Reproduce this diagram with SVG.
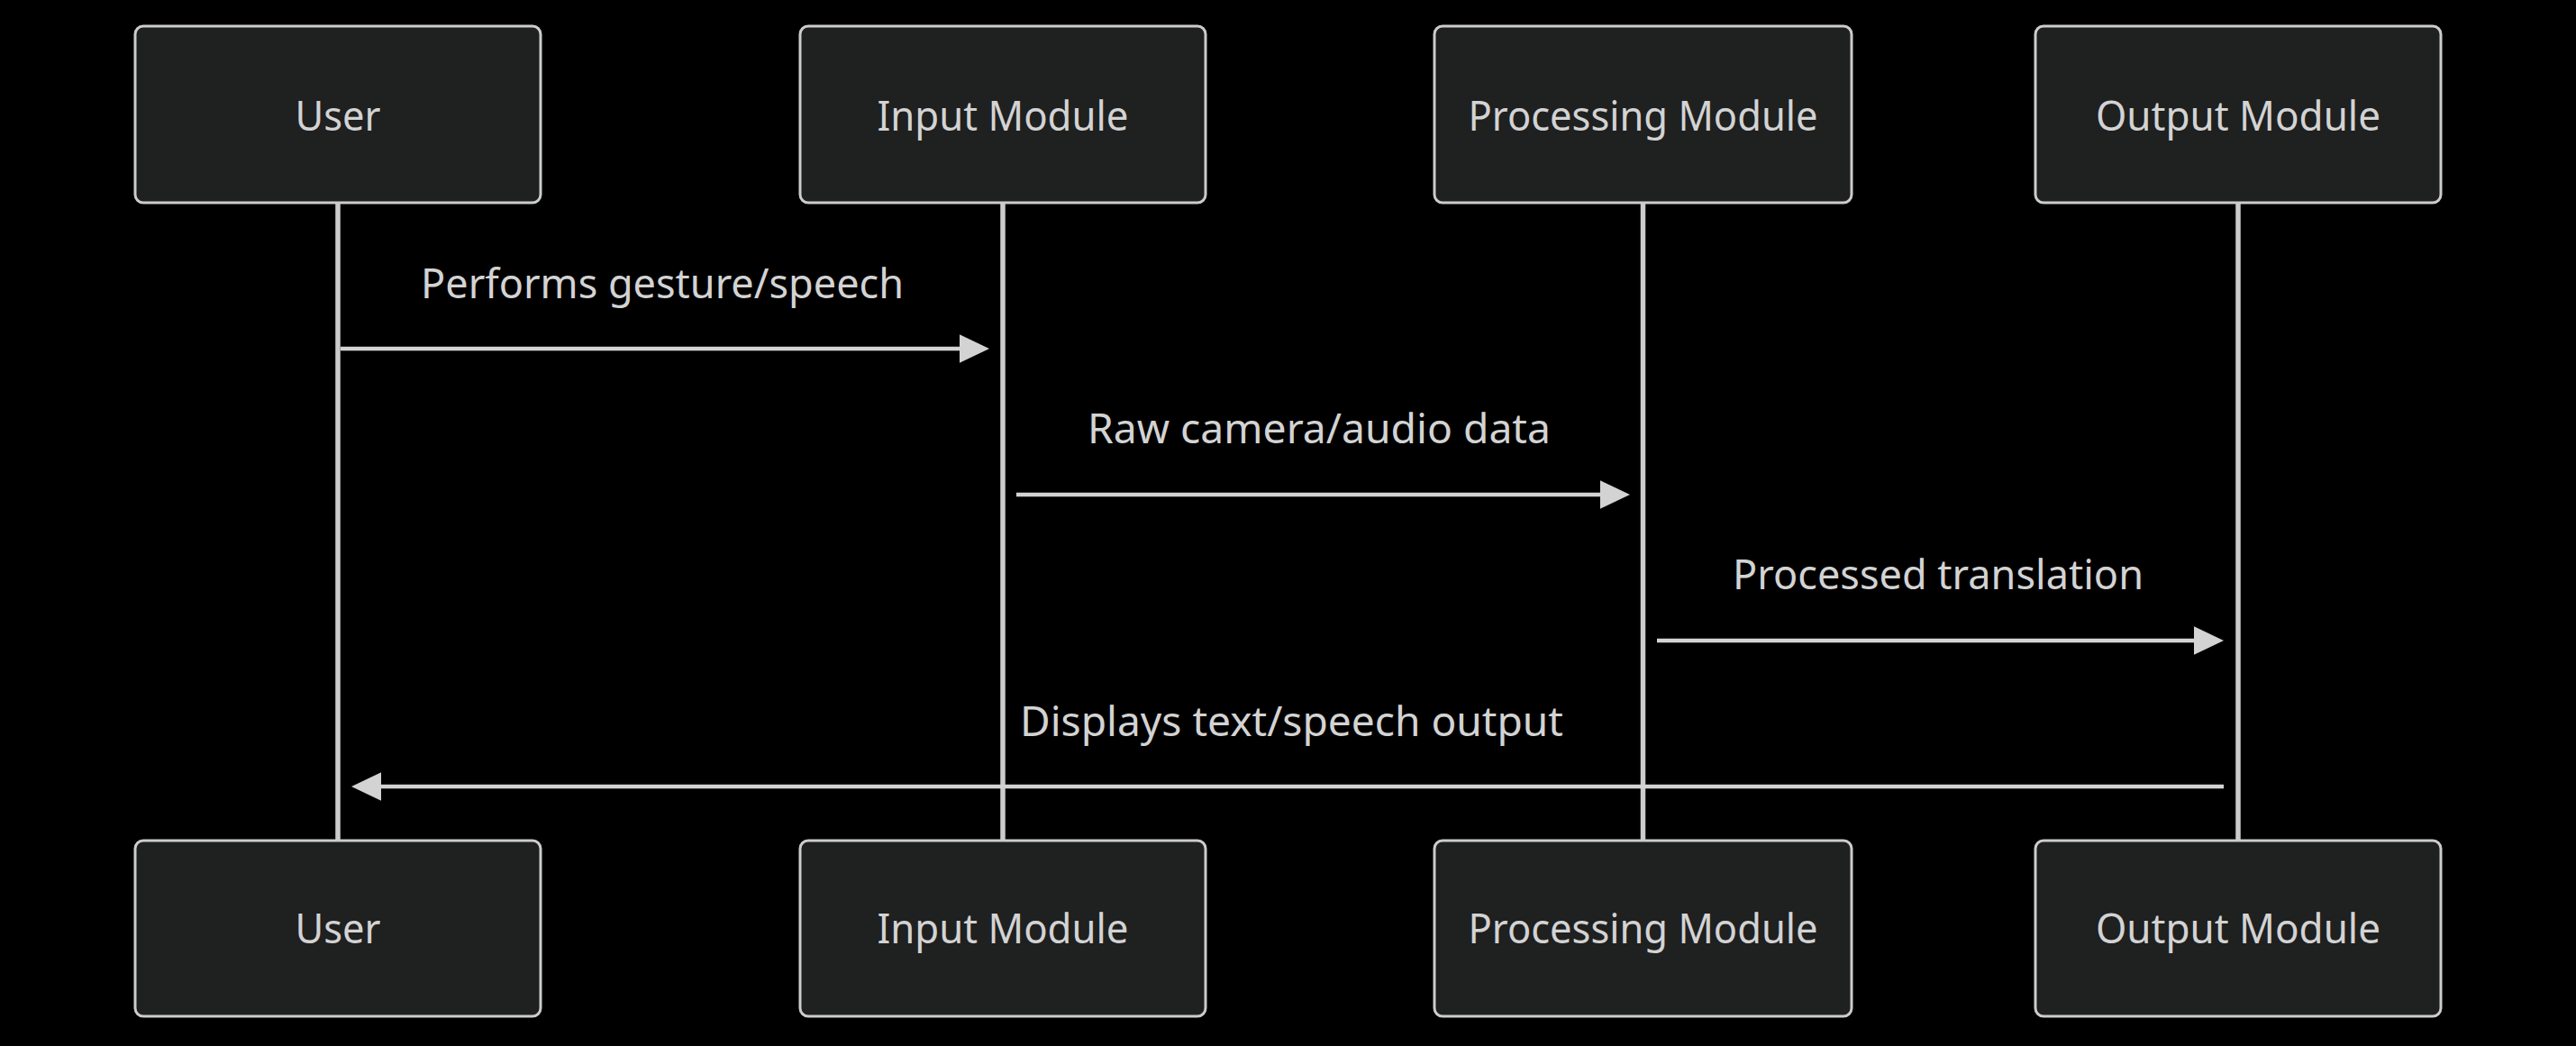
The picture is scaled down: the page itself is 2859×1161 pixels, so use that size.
<svg xmlns="http://www.w3.org/2000/svg" width="2859" height="1161" viewBox="0 0 2859 1161">
<style>
.bg{fill:#000000}
.actor rect{fill:#1f2020;stroke:#cccccc;stroke-width:3}
.actor text{fill:#d3d3d3;font-family:"Noto Sans","Liberation Sans",sans-serif;font-size:46px;text-anchor:middle}
.life{stroke:#cccccc;stroke-width:5.5}
.msg{stroke:#d3d3d3;stroke-width:4.5;fill:none}
.lbl{fill:#d3d3d3;font-family:"Noto Sans","Liberation Sans",sans-serif;font-size:46px;text-anchor:middle}
</style>
<defs>
<marker id="arr" markerUnits="userSpaceOnUse" viewBox="0 0 33 31.5" markerWidth="33" markerHeight="31.5" refX="10" refY="15.75" orient="auto">
<path d="M0,0 L33,15.75 L0,31.5 z" fill="#d3d3d3"/>
</marker>
</defs>
<rect class="bg" x="0" y="0" width="2859" height="1161"/>
<g id="lifelines">
<line class="life" x1="375" y1="225" x2="375" y2="933"/>
<line class="life" x1="1113" y1="225" x2="1113" y2="933"/>
<line class="life" x1="1823.5" y1="225" x2="1823.5" y2="933"/>
<line class="life" x1="2484" y1="225" x2="2484" y2="933"/>
</g>
<g id="actor-user-top" class="actor"><rect x="150" y="29" width="450" height="196" rx="9"/><text x="375" y="145" textLength="95" lengthAdjust="spacingAndGlyphs">User</text></g>
<g id="actor-input-top" class="actor"><rect x="888" y="29" width="450" height="196" rx="9"/><text x="1113" y="145" textLength="279" lengthAdjust="spacingAndGlyphs">Input Module</text></g>
<g id="actor-processing-top" class="actor"><rect x="1592" y="29" width="463" height="196" rx="9"/><text x="1823.5" y="145" textLength="388" lengthAdjust="spacingAndGlyphs">Processing Module</text></g>
<g id="actor-output-top" class="actor"><rect x="2259" y="29" width="450" height="196" rx="9"/><text x="2484" y="145" textLength="316" lengthAdjust="spacingAndGlyphs">Output Module</text></g>
<g id="actor-user-bottom" class="actor"><rect x="150" y="933" width="450" height="195" rx="9"/><text x="375" y="1047" textLength="95" lengthAdjust="spacingAndGlyphs">User</text></g>
<g id="actor-input-bottom" class="actor"><rect x="888" y="933" width="450" height="195" rx="9"/><text x="1113" y="1047" textLength="279" lengthAdjust="spacingAndGlyphs">Input Module</text></g>
<g id="actor-processing-bottom" class="actor"><rect x="1592" y="933" width="463" height="195" rx="9"/><text x="1823.5" y="1047" textLength="388" lengthAdjust="spacingAndGlyphs">Processing Module</text></g>
<g id="actor-output-bottom" class="actor"><rect x="2259" y="933" width="450" height="195" rx="9"/><text x="2484" y="1047" textLength="316" lengthAdjust="spacingAndGlyphs">Output Module</text></g>
<g id="connectors">
<line class="msg" x1="378" y1="387" x2="1075" y2="387" marker-end="url(#arr)"/>
<line class="msg" x1="1128" y1="549" x2="1786" y2="549" marker-end="url(#arr)"/>
<line class="msg" x1="1839" y1="711" x2="2445" y2="711" marker-end="url(#arr)"/>
<line class="msg" x1="2468" y1="873" x2="413" y2="873" marker-end="url(#arr)"/>
<text class="lbl" x="735" y="331" textLength="536" lengthAdjust="spacingAndGlyphs">Performs gesture/speech</text>
<text class="lbl" x="1464" y="492" textLength="514" lengthAdjust="spacingAndGlyphs">Raw camera/audio data</text>
<text class="lbl" x="2151" y="654" textLength="456" lengthAdjust="spacingAndGlyphs">Processed translation</text>
<text class="lbl" x="1433.5" y="816.5" textLength="603" lengthAdjust="spacingAndGlyphs">Displays text/speech output</text>
</g>
</svg>
